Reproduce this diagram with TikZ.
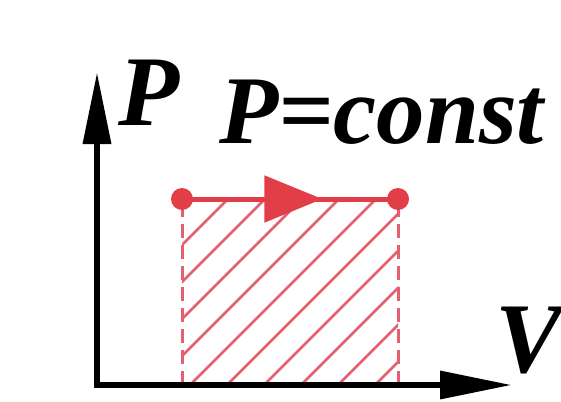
\documentclass[tikz,border=0pt]{standalone}
\usepackage{fontspec}
\setmainfont{Liberation Serif}
\usetikzlibrary{arrows.meta,decorations.markings}
\definecolor{isored}{RGB}{226,62,72}
\definecolor{hatchred}{RGB}{228,96,112}

\tikzset{
  axis/.style={line width=6.5pt,-{Triangle[length=72pt,width=27pt]}},
  lbl/.style={font=\fontsize{100}{100}\selectfont\bfseries\itshape,inner sep=0pt,anchor=base west},
  hatch/.style={hatchred,line width=2.6pt},
  side/.style={hatchred,line width=3pt,dash pattern=on 14pt off 7pt},
  dot/.style={circle,fill=isored,inner sep=0pt,minimum size=22pt}
}

\begin{document}
\begin{tikzpicture}[x=1pt,y=-1pt]
  \useasboundingbox (0,0) rectangle (561,401);
  \coordinate (O) at (97,385); \coordinate (ytip) at (97,72);
  \coordinate (xtip) at (512,385);
  \coordinate (A) at (182,199); \coordinate (B) at (398,199);
  \coordinate (A0) at (182,385); \coordinate (B0) at (398,385);
  % hatching of the work area
  \begin{scope}
    \clip (A0) rectangle (B);
    \foreach \k in {-6,...,6} \draw[hatch] (190+37*\k,385) -- ++(240,-240);
  \end{scope}
  \draw[side] (A0) -- (A); \draw[side] (B0) -- (B);
  \draw[isored,line width=5pt,postaction={decorate},decoration={markings,
    mark=at position 0.65 with {\arrow{Triangle[length=58pt,width=46pt]}}}]
    (A) -- (B);
  \node[dot] (a) at (A) {}; \node[dot] (b) at (B) {};
  \draw[axis] (O) -- (ytip); \draw[axis] ([xshift=-3.25pt]O) -- (xtip);
  \node[lbl] (lblP) at (118,125) {P};
  \node[lbl,font=\fontsize{97}{97}\selectfont\bfseries\itshape] (lblConst) at (219,143) {P=const};
  \node[lbl] (lblV) at (495,372) {V};
\end{tikzpicture}
\end{document}
